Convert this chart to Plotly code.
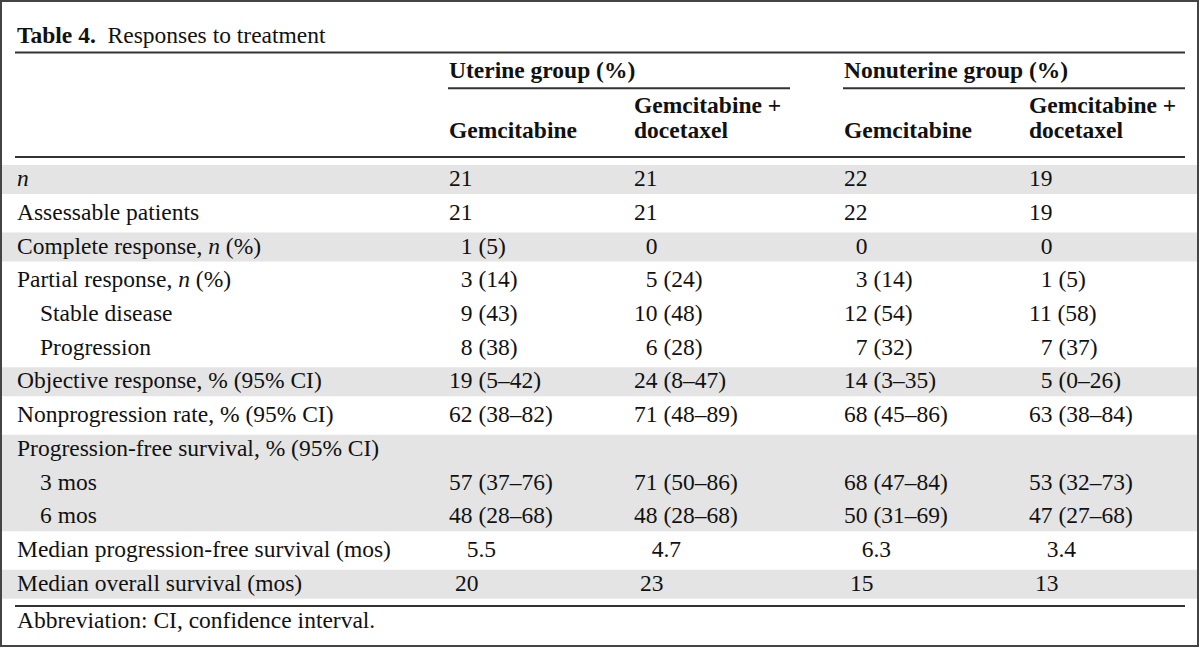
import plotly.graph_objects as go

# ---------------- data ----------------
title_bold = "Table 4."
title_rest = "Responses to treatment"
group_labels = ["Uterine group (%)", "Nonuterine group (%)"]
arm_labels = ["Gemcitabine", "Gemcitabine +<br>docetaxel", "Gemcitabine", "Gemcitabine +<br>docetaxel"]

row_labels = [
    "<i>n</i>",
    "Assessable patients",
    "Complete response, <i>n</i> (%)",
    "Partial response, <i>n</i> (%)",
    "Stable disease",
    "Progression",
    "Objective response, % (95% CI)",
    "Nonprogression rate, % (95% CI)",
    "Progression-free survival, % (95% CI)",
    "3 mos",
    "6 mos",
    "Median progression-free survival (mos)",
    "Median overall survival (mos)",
]
row_indent = [0, 0, 0, 0, 1, 1, 0, 0, 0, 1, 1, 0, 0]

F = "\u2007"   # figure space (digit width)
P = "\u2008"   # punctuation space
uterine_gem = ["21", "21", F + "1 (5)", F + "3 (14)", F + "9 (43)", F + "8 (38)",
               "19 (5–42)", "62 (38–82)", "", "57 (37–76)", "48 (28–68)", F + P + "5.5", P + "20"]
uterine_gem_doc = ["21", "21", F + "0", F + "5 (24)", "10 (48)", F + "6 (28)",
                   "24 (8–47)", "71 (48–89)", "", "71 (50–86)", "48 (28–68)", F + P + "4.7", P + "23"]
nonuterine_gem = ["22", "22", F + "0", F + "3 (14)", "12 (54)", F + "7 (32)",
                  "14 (3–35)", "68 (45–86)", "", "68 (47–84)", "50 (31–69)", F + P + "6.3", P + "15"]
nonuterine_gem_doc = ["19", "19", F + "0", F + "1 (5)", "11 (58)", F + "7 (37)",
                      F + "5 (0–26)", "63 (38–84)", "", "53 (32–73)", "47 (27–68)", F + P + "3.4", P + "13"]
footnote = "Abbreviation: CI, confidence interval."

# ---------------- layout / style ----------------
W, H = 1200, 648
FONT = "Liberation Serif, Times New Roman, serif"
FS = 23.5
TXT = "#111111"
LINE = "#333333"
SHADE = "#e4e4e4"
shaded = [True, False, True, False, False, False, True, False, True, True, True, False, True]

label_x = 16
indent_x = 39
col_x = [448, 633, 843, 1028]
ROW0_BASE = 186.0
PITCH = 33.72
MID = 0.3375 * FS  # baseline -> text middle


def base(i):
    return ROW0_BASE + PITCH * i


fig = go.Figure()
shapes = []
annotations = []


def txt(x, baseline, s, bold=False):
    annotations.append(dict(
        x=x, y=baseline - MID, xref="x", yref="y", text=("<b>%s</b>" % s) if bold else s,
        showarrow=False, xanchor="left", yanchor="middle",
        font=dict(family=FONT, size=FS, color=TXT), borderpad=0,
    ))


# shading bands (merge contiguous shaded rows)
i = 0
n = len(row_labels)
while i < n:
    if shaded[i]:
        j = i
        while j + 1 < n and shaded[j + 1]:
            j += 1
        shapes.append(dict(type="rect", xref="x", yref="y", x0=2, x1=W - 2,
                           y0=base(i) - 21, y1=base(j) + 8,
                           fillcolor=SHADE, line=dict(width=0), layer="below"))
        i = j + 1
    else:
        i += 1


def hline(y, x0, x1, w=2):
    shapes.append(dict(type="line", xref="x", yref="y", x0=x0, x1=x1, y0=y, y1=y,
                       line=dict(color=LINE, width=w)))


hline(52.5, 15, 1185)
hline(88.3, col_x[0], 790)
hline(88.3, col_x[2], 1185)
hline(157, 15, 1185)
hline(606, 15, 1185)

# outer border
shapes.append(dict(type="rect", xref="x", yref="y", x0=1, x1=W - 2, y0=1, y1=H - 2,
                   line=dict(color="#444444", width=2), fillcolor="rgba(0,0,0,0)"))

# title
txt(label_x, 42.7, "<b>%s</b>\u2002%s" % (title_bold, title_rest))

# group headers
txt(col_x[0], 78, group_labels[0], bold=True)
txt(col_x[2], 78, group_labels[1], bold=True)

# arm headers
for cx, lab in zip(col_x, arm_labels):
    parts = lab.split("<br>")
    if len(parts) == 1:
        txt(cx, 138, parts[0], bold=True)
    else:
        txt(cx, 113, parts[0], bold=True)
        txt(cx, 138, parts[1], bold=True)

# body
columns = [uterine_gem, uterine_gem_doc, nonuterine_gem, nonuterine_gem_doc]
for r, lab in enumerate(row_labels):
    txt(indent_x if row_indent[r] else label_x, base(r), lab)
    for cx, col in zip(col_x, columns):
        if col[r]:
            txt(cx, base(r), col[r])

# footnote
txt(label_x, 628, footnote)

fig.update_layout(
    width=W, height=H, margin=dict(l=0, r=0, t=0, b=0),
    paper_bgcolor="white", plot_bgcolor="white",
    xaxis=dict(range=[0, W], visible=False, fixedrange=True),
    yaxis=dict(range=[H, 0], visible=False, fixedrange=True),
    shapes=shapes, annotations=annotations, showlegend=False,
)
fig.write_html("out.html", config={"displayModeBar": False},
               post_script="document.body.style.margin='0';")
